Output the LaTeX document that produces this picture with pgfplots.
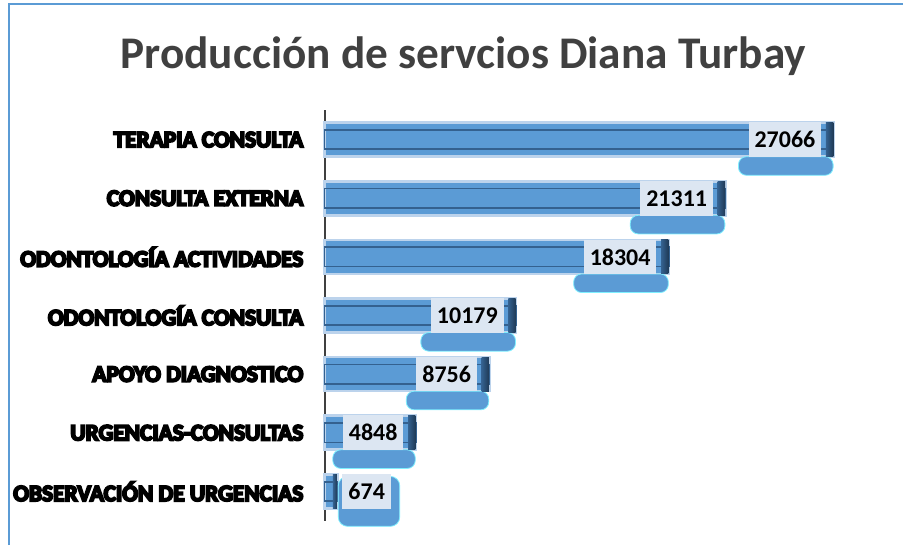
\documentclass[border=0pt]{standalone}
\usepackage{pgfplots}
\pgfplotsset{compat=1.18}
\usepackage{fontspec}
\setmainfont{Carlito}
\newfontfamily\heavyfont{Carlito}[UprightFeatures={FakeBold=8}, BoldFeatures={FakeBold=8}]
\definecolor{barblue}{HTML}{5B9BD5}
\definecolor{bardark}{HTML}{34618F}
\definecolor{barverydark}{HTML}{1F3A56}
\definecolor{barlight}{HTML}{BCD3EC}
\definecolor{labelbg}{HTML}{DCE6F2}
\definecolor{framecol}{HTML}{5B9BD5}
\definecolor{titlecol}{HTML}{404040}
\definecolor{axiscol}{HTML}{404040}
\definecolor{glow}{HTML}{7FF0FF}

\pgfplotstableread{
i v
0 27066
1 21311
2 18304
3 10179
4 8756
5 4848
}\mainbars
\pgfplotstableread{
i v
6 674
}\smallbar

\begin{document}
\begin{tikzpicture}
\path (0,0) rectangle (678pt,409.5pt);
\draw[framecol, line width=2pt] (6.75pt,0) -- (6.75pt,406.5pt) -- (678pt,406.5pt);
\node[anchor=base, font=\fontsize{34}{40}\selectfont\bfseries, text=titlecol] at (348pt,358pt) {Producción de servcios Diana Turbay};
\begin{axis}[
  set layers,
  at={(243.75pt,18.4pt)}, anchor=south west,
  scale only axis, width=423.75pt, height=308.25pt,
  xmin=0, xmax=30000, ymin=-0.5, ymax=6.5, y dir=reverse,
  axis x line=none, axis y line=left,
  y axis line style={-, draw=axiscol, line width=1.5pt},
  ytick={0,...,6},
  yticklabels={TERAPIA CONSULTA, CONSULTA EXTERNA, ODONTOLOGÍA ACTIVIDADES, ODONTOLOGÍA CONSULTA, APOYO DIAGNOSTICO, URGENCIAS-CONSULTAS, OBSERVACIÓN DE URGENCIAS},
  ytick style={draw=none}, major tick length=0pt,
  yticklabel style={font=\heavyfont\fontsize{17.5}{20}\selectfont\bfseries, text=black, anchor=east, inner sep=0pt, xshift=-15.75pt},
  xbar, bar shift=0pt, bar width=25.5pt,
  clip=false,
  point meta=explicit symbolic,
]
% shadow blobs under the labels
\addplot[draw=none, fill=none, nodes near coords={\phantom{\pgfplotspointmeta}},
  nodes near coords style={anchor=north east, fill=barblue, draw=glow, line width=0.6pt, rounded corners=6pt,
    font=\fontsize{18}{20}\selectfont\bfseries, text height=0pt, text depth=0pt,
    inner xsep=12.75pt, inner ysep=0pt, minimum height=14pt, yshift=-12.5pt, xshift=0pt}]
  table[x=v, y=i, meta=v] {\mainbars};
\addplot[draw=none, fill=none, nodes near coords={\phantom{\pgfplotspointmeta}},
  nodes near coords style={anchor=west, fill=barblue, draw=glow, line width=0.6pt, rounded corners=7pt,
    font=\fontsize{18}{20}\selectfont\bfseries, text height=0pt, text depth=0pt,
    inner xsep=9.4pt, inner ysep=0pt, minimum height=37.5pt, yshift=-7.5pt, xshift=0.5pt}]
  table[x=v, y=i, meta=v] {\smallbar};
% bars: light outline and face
\addplot[fill=barblue, draw=barlight, line width=2pt] table[x=v, y=i] {\mainbars};
\addplot[fill=barblue, draw=barlight, line width=2pt] table[x=v, y=i] {\smallbar};
% inner bevel line
\addplot[fill=none, draw=bardark, line width=1.3pt, bar width=14.5pt] table[x=v, y=i] {\mainbars};
\addplot[fill=none, draw=bardark, line width=1.3pt, bar width=14.5pt] table[x=v, y=i] {\smallbar};
% dark right-end bevel
\addplot[draw=none, fill=none, nodes near coords={},
  nodes near coords style={anchor=east, inner sep=0pt, minimum width=5.5pt, minimum height=25.5pt, left color=bardark, right color=barverydark}]
  table[x=v, y=i, meta=v] {\mainbars};
\addplot[draw=none, fill=none, nodes near coords={},
  nodes near coords style={anchor=east, inner sep=0pt, minimum width=3pt, minimum height=25.5pt, left color=bardark, right color=barverydark}]
  table[x=v, y=i, meta=v] {\smallbar};
% value labels
\addplot[draw=none, fill=none, nodes near coords,
  nodes near coords style={anchor=east, fill=labelbg, text=black, font=\fontsize{18}{20}\selectfont\bfseries, inner xsep=4.5pt, minimum height=26pt, xshift=-9pt}]
  table[x=v, y=i, meta=v] {\mainbars};
\addplot[draw=none, fill=none, nodes near coords,
  nodes near coords style={anchor=west, fill=labelbg, text=black, font=\fontsize{18}{20}\selectfont\bfseries, inner xsep=4.5pt, minimum height=26pt, xshift=3.75pt}]
  table[x=v, y=i, meta=v] {\smallbar};
\end{axis}
\end{tikzpicture}
\end{document}
